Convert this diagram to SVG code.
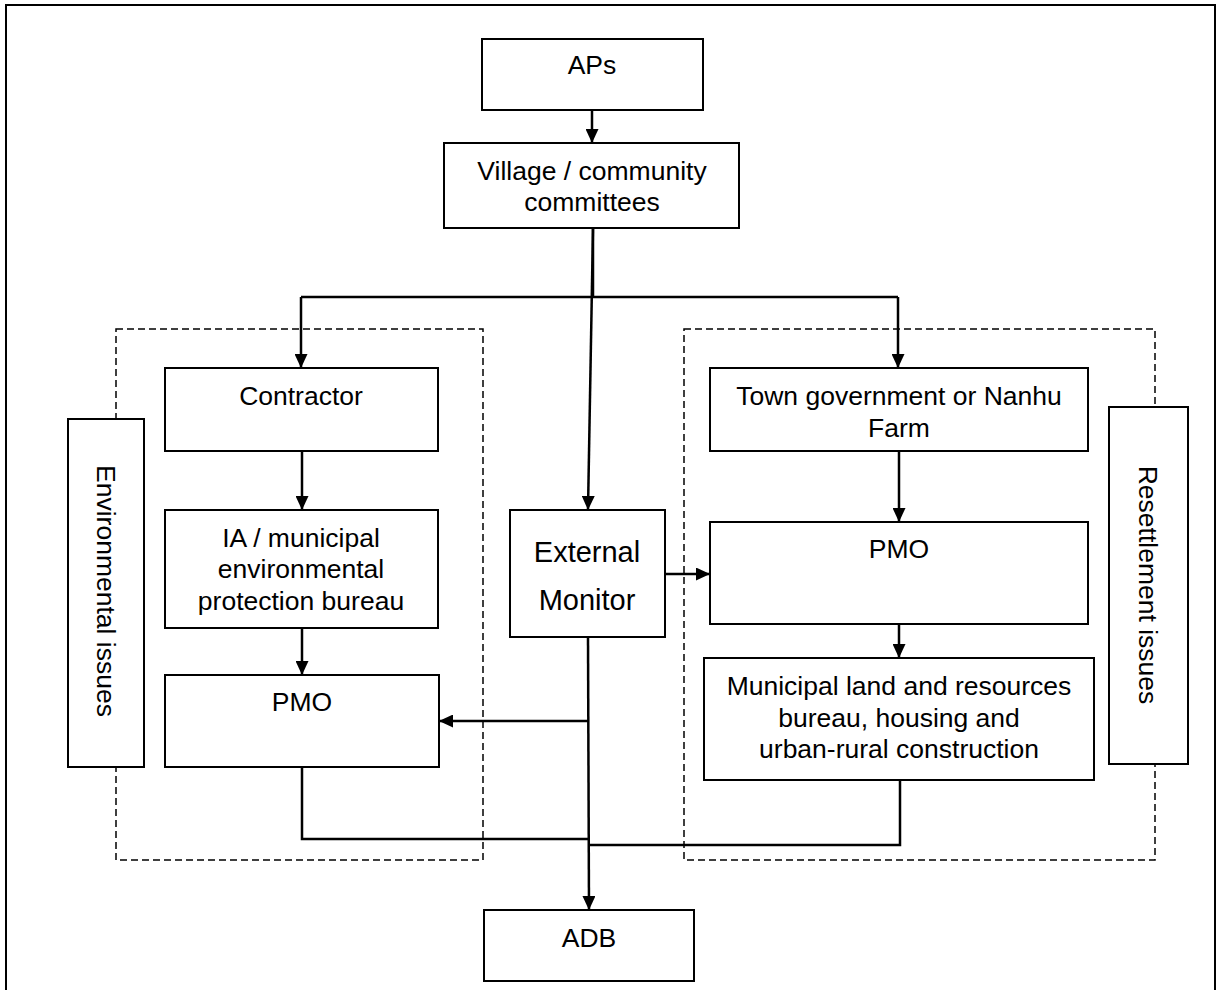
<svg xmlns="http://www.w3.org/2000/svg" width="1219" height="990" viewBox="0 0 1219 990">
<style>
.box{fill:#fff;stroke:#000;stroke-width:2}
.t{font-family:"Liberation Sans",Arial,sans-serif;font-size:26.5px;fill:#000;text-anchor:middle}
.big{font-size:29px}
.c{fill:none;stroke:#000;stroke-width:2.5}
.d{fill:none;stroke:#000;stroke-width:1.5;stroke-dasharray:7,4}
</style>
<defs>
<marker id="ah" markerWidth="14" markerHeight="13" refX="10" refY="5" orient="auto" markerUnits="userSpaceOnUse" viewBox="0 0 10 10" preserveAspectRatio="none">
<path d="M0,0 L10,5 L0,10 z" fill="#000"/>
</marker>
</defs>
<rect x="6" y="5" width="1209" height="995" fill="#fff" stroke="#000" stroke-width="2"/>
<g id="regions">
<rect class="d" x="116" y="329" width="367" height="531"/>
<rect class="d" x="684" y="329" width="471" height="531"/>
</g>
<g id="connectors">
<line class="c" x1="592" y1="110" x2="592" y2="143" marker-end="url(#ah)"/>
<polyline class="c" points="593,228 593,297"/>
<polyline class="c" points="301,297 898,297"/>
<line class="c" x1="301" y1="297" x2="301" y2="368" marker-end="url(#ah)"/>
<line class="c" x1="898" y1="297" x2="898" y2="368" marker-end="url(#ah)"/>
<line class="c" stroke-width="2" x1="593" y1="228" x2="588" y2="510" marker-end="url(#ah)"/>
<line class="c" x1="302" y1="451" x2="302" y2="510" marker-end="url(#ah)"/>
<line class="c" x1="302" y1="628" x2="302" y2="675" marker-end="url(#ah)"/>
<line class="c" x1="899" y1="451" x2="899" y2="522" marker-end="url(#ah)"/>
<line class="c" x1="899" y1="624" x2="899" y2="658" marker-end="url(#ah)"/>
<line class="c" x1="665" y1="574" x2="710" y2="574" marker-end="url(#ah)"/>
<line class="c" x1="588" y1="637" x2="589" y2="910" marker-end="url(#ah)"/>
<line class="c" x1="589" y1="721" x2="439" y2="721" marker-end="url(#ah)"/>
<polyline class="c" points="302,767 302,839 589,839"/>
<polyline class="c" points="900,780 900,845 589,845"/>
</g>
<g id="aps"><rect class="box" x="482" y="39" width="221" height="71"/><text class="t" x="592" y="74">APs</text></g>
<g id="village"><rect class="box" x="444" y="143" width="295" height="85"/><text class="t" x="592" y="180">Village / community</text><text class="t" x="592" y="211">committees</text></g>
<g id="contractor"><rect class="box" x="165" y="368" width="273" height="83"/><text class="t" x="301" y="405">Contractor</text></g>
<g id="ia"><rect class="box" x="165" y="510" width="273" height="118"/><text class="t" x="301" y="547">IA / municipal</text><text class="t" x="301" y="578">environmental</text><text class="t" x="301" y="610">protection bureau</text></g>
<g id="pmo-left"><rect class="box" x="165" y="675" width="274" height="92"/><text class="t" x="302" y="711">PMO</text></g>
<g id="external"><rect class="box" x="510" y="510" width="155" height="127"/><text class="t big" x="587" y="562">External</text><text class="t big" x="587" y="610">Monitor</text></g>
<g id="town"><rect class="box" x="710" y="368" width="378" height="83"/><text class="t" x="899" y="405">Town government or Nanhu</text><text class="t" x="899" y="437">Farm</text></g>
<g id="pmo-right"><rect class="box" x="710" y="522" width="378" height="102"/><text class="t" x="899" y="558">PMO</text></g>
<g id="municipal"><rect class="box" x="704" y="658" width="390" height="122"/><text class="t" x="899" y="695">Municipal land and resources</text><text class="t" x="899" y="727">bureau, housing and</text><text class="t" x="899" y="758">urban-rural construction</text></g>
<g id="adb"><rect class="box" x="484" y="910" width="210" height="71"/><text class="t" x="589" y="947">ADB</text></g>
<g id="env"><rect class="box" x="68" y="419" width="76" height="348"/><text class="t" transform="translate(106,591) rotate(90)" x="0" y="9">Environmental issues</text></g>
<g id="resettle"><rect class="box" x="1109" y="407" width="79" height="357"/><text class="t" transform="translate(1148,585) rotate(90)" x="0" y="9">Resettlement issues</text></g>
</svg>
